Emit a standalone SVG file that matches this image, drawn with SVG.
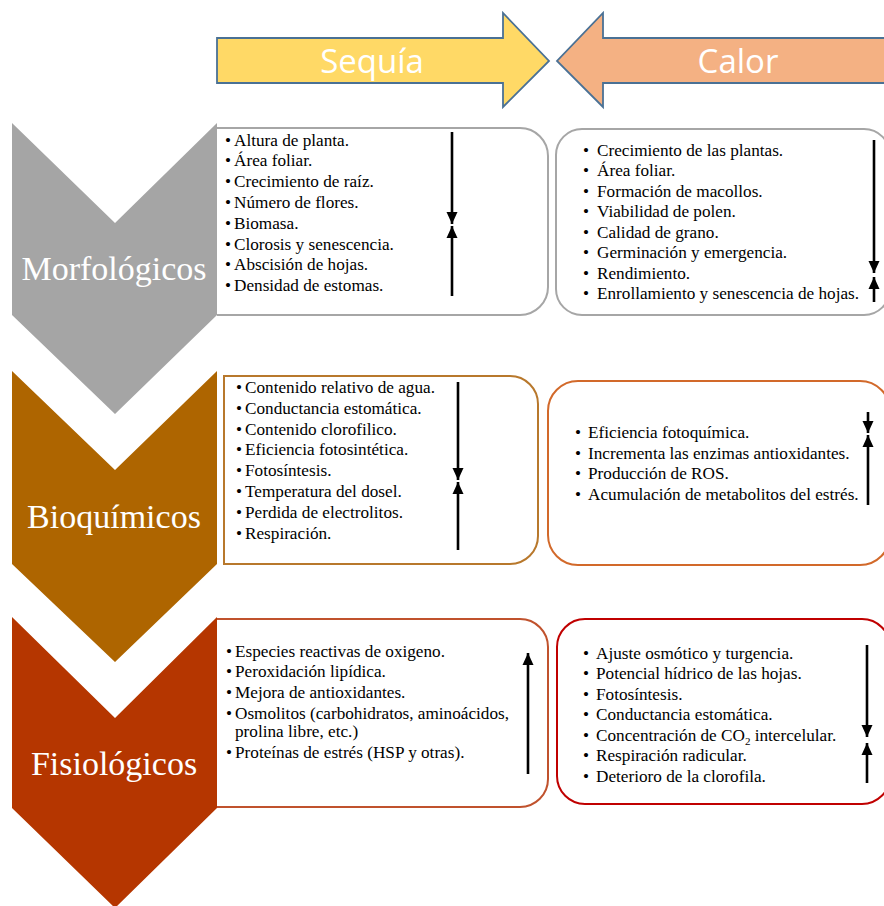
<svg xmlns="http://www.w3.org/2000/svg" width="884" height="906" viewBox="0 0 884 906">
<defs>
<style>
.lst{font-family:"Liberation Serif","Times New Roman",serif;font-size:17.2px;fill:#000}
.lbl{font-family:"Liberation Serif","Times New Roman",serif;font-size:34px;fill:#fff;text-anchor:middle}
.hdr{font-family:"Open Sans","Liberation Sans",sans-serif;font-size:33px;fill:#fff;text-anchor:middle}
.box{fill:#fff;stroke-width:2}
.arr{stroke:#000;stroke-width:2.6;fill:none;marker-end:url(#ah)}
.big{stroke:#4A7195;stroke-width:1.8}
</style>
<marker id="ah" markerUnits="userSpaceOnUse" markerWidth="12" markerHeight="12" refX="12" refY="6" orient="auto" viewBox="0 0 12 12">
<path d="M0,0.5 L12,6 L0,11.5 Z" fill="#000"/>
</marker>
</defs>
<rect width="884" height="906" fill="#fff"/>

<g id="sequia">
<polygon class="big" points="217,38 503,38 503,13 549,61 503,107 503,83 217,83" fill="#FFD966"/>
<text class="hdr" x="372" y="73">Sequía</text>
</g>
<g id="calor">
<polygon class="big" points="890,38 603,38 603,13 557,61 603,107 603,83 890,83" fill="#F4B183"/>
<text class="hdr" x="738" y="73">Calor</text>
</g>

<g id="box-morf-sequia">
<path class="box" stroke="#A6A6A6" d="M217,128 H520 A28,28 0 0 1 548,156 V287 A28,28 0 0 1 520,315 H217"/>
<g class="lst">
<text x="225" y="145.5">•</text><text x="234" y="145.5">Altura de planta.</text>
<text x="225" y="166">•</text><text x="234" y="166">Área foliar.</text>
<text x="225" y="186.5">•</text><text x="234" y="186.5">Crecimiento de raíz.</text>
<text x="225" y="207.5">•</text><text x="234" y="207.5">Número de flores.</text>
<text x="225" y="228.5">•</text><text x="234" y="228.5">Biomasa.</text>
<text x="225" y="249.5">•</text><text x="234" y="249.5">Clorosis y senescencia.</text>
<text x="225" y="270">•</text><text x="234" y="270">Abscisión de hojas.</text>
<text x="225" y="291">•</text><text x="234" y="291">Densidad de estomas.</text>
</g>
</g>

<g id="box-morf-calor">
<rect class="box" stroke="#A6A6A6" x="556" y="129" width="334" height="186" rx="26"/>
<g class="lst">
<text x="583" y="155.5">•</text><text x="597" y="155.5">Crecimiento de las plantas.</text>
<text x="583" y="176">•</text><text x="597" y="176">Área foliar.</text>
<text x="583" y="196.5">•</text><text x="597" y="196.5">Formación de macollos.</text>
<text x="583" y="217">•</text><text x="597" y="217">Viabilidad de polen.</text>
<text x="583" y="237.5">•</text><text x="597" y="237.5">Calidad de grano.</text>
<text x="583" y="258">•</text><text x="597" y="258">Germinación y emergencia.</text>
<text x="583" y="278.5">•</text><text x="597" y="278.5">Rendimiento.</text>
<text x="583" y="299">•</text><text x="597" y="299">Enrollamiento y senescencia de hojas.</text>
</g>
</g>

<g id="box-bioq-sequia">
<path class="box" stroke="#B8782C" d="M224,376 H510 A28,28 0 0 1 538,404 V536 A28,28 0 0 1 510,564 H224 Z"/>
<g class="lst">
<text x="236" y="393">•</text><text x="245" y="393">Contenido relativo de agua.</text>
<text x="236" y="413.8">•</text><text x="245" y="413.8">Conductancia estomática.</text>
<text x="236" y="434.6">•</text><text x="245" y="434.6">Contenido clorofilico.</text>
<text x="236" y="455.4">•</text><text x="245" y="455.4">Eficiencia fotosintética.</text>
<text x="236" y="476.2">•</text><text x="245" y="476.2">Fotosíntesis.</text>
<text x="236" y="497">•</text><text x="245" y="497">Temperatura del dosel.</text>
<text x="236" y="517.8">•</text><text x="245" y="517.8">Perdida de electrolitos.</text>
<text x="236" y="538.6">•</text><text x="245" y="538.6">Respiración.</text>
</g>
</g>

<g id="box-bioq-calor">
<rect class="box" stroke="#D2692A" x="548" y="381" width="342" height="184" rx="30"/>
<g class="lst">
<text x="575" y="438">•</text><text x="588" y="438">Eficiencia fotoquímica.</text>
<text x="575" y="458.5">•</text><text x="588" y="458.5">Incrementa las enzimas antioxidantes.</text>
<text x="575" y="479">•</text><text x="588" y="479">Producción de ROS.</text>
<text x="575" y="499.5">•</text><text x="588" y="499.5">Acumulación de metabolitos del estrés.</text>
</g>
</g>

<g id="box-fisio-sequia">
<path class="box" stroke="#C0522D" d="M217,619 H520 A28,28 0 0 1 548,647 V779 A28,28 0 0 1 520,807 H217"/>
<g class="lst">
<text x="226" y="657">•</text><text x="235" y="657">Especies reactivas de oxigeno.</text>
<text x="226" y="677">•</text><text x="235" y="677">Peroxidación lipídica.</text>
<text x="226" y="697.5">•</text><text x="235" y="697.5">Mejora de antioxidantes.</text>
<text x="226" y="718.5">•</text><text x="235" y="718.5">Osmolitos (carbohidratos, aminoácidos,</text>
<text x="235" y="736.5">prolina libre, etc.)</text>
<text x="226" y="758">•</text><text x="235" y="758">Proteínas de estrés (HSP y otras).</text>
</g>
</g>

<g id="box-fisio-calor">
<rect class="box" stroke="#C00000" x="557" y="619" width="333" height="185" rx="28"/>
<g class="lst">
<text x="583" y="658.5">•</text><text x="596" y="658.5">Ajuste osmótico y turgencia.</text>
<text x="583" y="679">•</text><text x="596" y="679">Potencial hídrico de las hojas.</text>
<text x="583" y="699.5">•</text><text x="596" y="699.5">Fotosíntesis.</text>
<text x="583" y="720">•</text><text x="596" y="720">Conductancia estomática.</text>
<text x="583" y="740.5">•</text><text x="596" y="740.5">Concentración de CO<tspan font-size="11" dy="4">2</tspan><tspan dy="-4"> intercelular.</tspan></text>
<text x="583" y="761">•</text><text x="596" y="761">Respiración radicular.</text>
<text x="583" y="781.5">•</text><text x="596" y="781.5">Deterioro de la clorofila.</text>
</g>
</g>

<g id="morfologicos">
<polygon points="12,123 115,223 217,123 217,315 115,414 12,315" fill="#A5A5A5"/>
<text class="lbl" x="114" y="280">Morfológicos</text>
</g>
<g id="bioquimicos">
<polygon points="12,371 115,470 217,371 217,564 115,662 12,564" fill="#AE6500"/>
<text class="lbl" x="114" y="528">Bioquímicos</text>
</g>
<g id="fisiologicos">
<polygon points="12,617 115,718 217,617 217,808 115,908 12,808" fill="#B53600"/>
<text class="lbl" x="114" y="775">Fisiológicos</text>
</g>

<g id="connectors">
<line class="arr" x1="452" y1="132" x2="452" y2="224"/>
<line class="arr" x1="452" y1="296" x2="452" y2="226"/>
<line class="arr" x1="458" y1="382" x2="458" y2="480"/>
<line class="arr" x1="458" y1="550" x2="458" y2="482"/>
<line class="arr" x1="528" y1="774" x2="528" y2="653"/>
<line class="arr" x1="874" y1="140" x2="874" y2="273"/>
<line class="arr" x1="874" y1="302" x2="874" y2="277"/>
<line class="arr" x1="868" y1="412" x2="868" y2="433"/>
<line class="arr" x1="868" y1="505" x2="868" y2="435"/>
<line class="arr" x1="867" y1="645" x2="867" y2="737"/>
<line class="arr" x1="867" y1="783" x2="867" y2="743"/>
</g>
</svg>
